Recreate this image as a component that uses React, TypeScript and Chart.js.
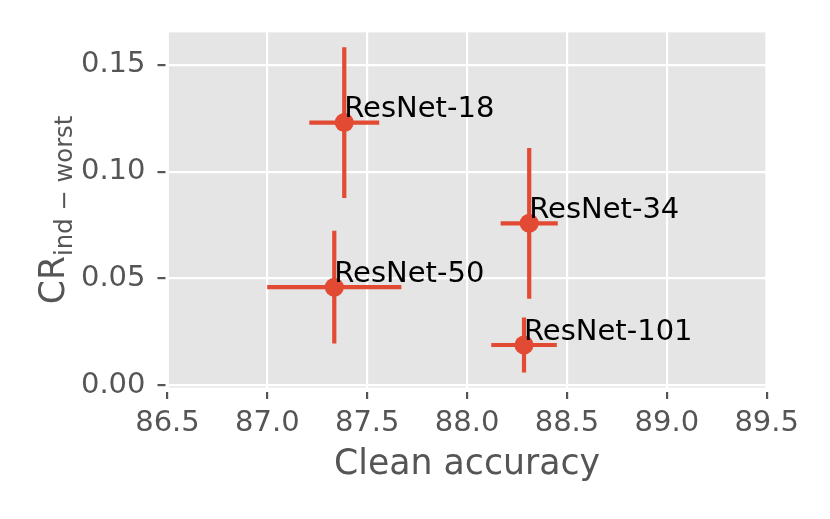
import React, { useEffect, useRef } from "react";
import { Chart, registerables } from "chart.js";

Chart.register(...registerables);

const categories = ["ResNet-18", "ResNet-34", "ResNet-50", "ResNet-101"];
const cleanAcc = [87.385, 88.311, 87.335, 88.285];
const cleanAccErr = [0.175, 0.143, 0.336, 0.164];
const crWorst = [0.123, 0.0758, 0.0459, 0.0188];
const crWorstErr = [0.0353, 0.0353, 0.0264, 0.0129];
const xTicks = [86.5, 87.0, 87.5, 88.0, 88.5, 89.0, 89.5];
const yTicks = [0.0, 0.05, 0.1, 0.15];
const xLabel = "Clean accuracy";
const yLabelMain = "CR";
const yLabelSub = "ind \u2212 worst";

const RED = "#E24A33";
const FONT = "'DejaVu Sans', sans-serif";

export default function App() {
  const ref = useRef<HTMLCanvasElement | null>(null);
  useEffect(() => {
    const canvas = ref.current;
    if (!canvas) return;

    const bgPlugin = {
      id: "bg",
      beforeDraw(chart: any) {
        const { ctx, chartArea: a } = chart;
        ctx.save();
        ctx.fillStyle = "#E5E5E5";
        ctx.fillRect(a.left, a.top, a.right - a.left, a.bottom - a.top);
        ctx.restore();
      },
      beforeDatasetsDraw(chart: any) {
        const { ctx, chartArea: a, scales } = chart;
        ctx.save();
        ctx.strokeStyle = "#FFFFFF";
        ctx.lineWidth = 2.8;
        ctx.strokeRect(a.left, a.top, a.right - a.left, a.bottom - a.top);
        // error bars
        ctx.strokeStyle = RED;
        ctx.lineWidth = 4.2;
        ctx.lineCap = "butt";
        for (let i = 0; i < cleanAcc.length; i++) {
          const x0 = scales.x.getPixelForValue(cleanAcc[i] - cleanAccErr[i]);
          const x1 = scales.x.getPixelForValue(cleanAcc[i] + cleanAccErr[i]);
          const yc = scales.y.getPixelForValue(crWorst[i]);
          const xc = scales.x.getPixelForValue(cleanAcc[i]);
          const y0 = scales.y.getPixelForValue(crWorst[i] - crWorstErr[i]);
          const y1 = scales.y.getPixelForValue(crWorst[i] + crWorstErr[i]);
          ctx.beginPath();
          ctx.moveTo(x0, yc);
          ctx.lineTo(x1, yc);
          ctx.moveTo(xc, y0);
          ctx.lineTo(xc, y1);
          ctx.stroke();
        }
        ctx.restore();
      },
      afterDatasetsDraw(chart: any) {
        const { ctx, scales } = chart;
        ctx.save();
        ctx.fillStyle = "#000000";
        ctx.font = `29px ${FONT}`;
        ctx.textAlign = "left";
        ctx.textBaseline = "alphabetic";
        for (let i = 0; i < categories.length; i++) {
          const px = scales.x.getPixelForValue(cleanAcc[i]);
          const py = scales.y.getPixelForValue(crWorst[i]);
          ctx.fillText(categories[i], px, py - 5.5);
        }
        ctx.restore();
      },
      afterDraw(chart: any) {
        const { ctx, chartArea: a } = chart;
        ctx.save();
        ctx.fillStyle = "#555555";
        const mainFont = `34.7px ${FONT}`;
        const subFont = `24.3px ${FONT}`;
        ctx.font = mainFont;
        const wMain = ctx.measureText(yLabelMain).width;
        ctx.font = subFont;
        const wSub = ctx.measureText(yLabelSub).width;
        const total = wMain + wSub;
        const cy = (a.top + a.bottom) / 2;
        ctx.translate(64, cy);
        ctx.rotate(-Math.PI / 2);
        ctx.textAlign = "left";
        ctx.textBaseline = "alphabetic";
        ctx.font = mainFont;
        ctx.fillText(yLabelMain, -total / 2, 0);
        ctx.font = subFont;
        ctx.fillText(yLabelSub, -total / 2 + wMain, 8);
        ctx.restore();
      },
    };

    const chart = new Chart(canvas, {
      type: "scatter",
      data: {
        datasets: [
          {
            data: cleanAcc.map((x, i) => ({ x, y: crWorst[i] })),
            backgroundColor: RED,
            borderWidth: 0,
            pointRadius: 9.5,
            pointHoverRadius: 9.5,
          },
        ],
      },
      options: {
        animation: false,
        responsive: false,
        devicePixelRatio: 1,
        layout: { padding: { top: 31, right: 63.3, bottom: 0, left: 0 } },
        plugins: { legend: { display: false }, tooltip: { enabled: false } },
        scales: {
          x: {
            type: "linear",
            min: 86.5,
            max: 89.5,
            afterFit(scale: any) {
              scale.height = 130;
            },
            afterBuildTicks(scale: any) {
              scale.ticks = xTicks.map((v) => ({ value: v }));
            },
            border: { display: false },
            grid: {
              color: "#FFFFFF",
              lineWidth: 2.2,
              tickColor: "#555555",
              tickWidth: 2.2,
              tickLength: 10,
              tickBorderDash: [0, 3, 7, 100],
            },
            ticks: {
              autoSkip: false,
              maxRotation: 0,
              padding: 6.6,
              color: "#555555",
              font: { family: FONT, size: 29 },
              callback: (v: any) => Number(v).toFixed(1),
            },
            title: {
              display: true,
              text: xLabel,
              color: "#555555",
              font: { family: FONT, size: 34.7 },
              padding: { top: 0, bottom: 33.5 },
            },
          },
          y: {
            type: "linear",
            min: -0.0018,
            max: 0.1659,
            afterFit(scale: any) {
              scale.width = 167.5;
            },
            afterBuildTicks(scale: any) {
              scale.ticks = yTicks.map((v) => ({ value: v }));
            },
            border: { display: false },
            grid: {
              color: "#FFFFFF",
              lineWidth: 2.2,
              tickColor: "#555555",
              tickWidth: 2.2,
              tickLength: 10,
              tickBorderDash: [8, 100],
            },
            ticks: {
              autoSkip: false,
              padding: 12,
              color: "#555555",
              font: { family: FONT, size: 29 },
              callback: (v: any) => Number(v).toFixed(2),
            },
          },
        },
      },
      plugins: [bgPlugin],
    });
    return () => chart.destroy();
  }, []);

  return (
    <div style={{ position: "fixed", left: 0, top: 0, width: 830, height: 519, background: "#FFFFFF" }}>
      <canvas ref={ref} width={830} height={519} style={{ display: "block", width: 830, height: 519 }} />
    </div>
  );
}
